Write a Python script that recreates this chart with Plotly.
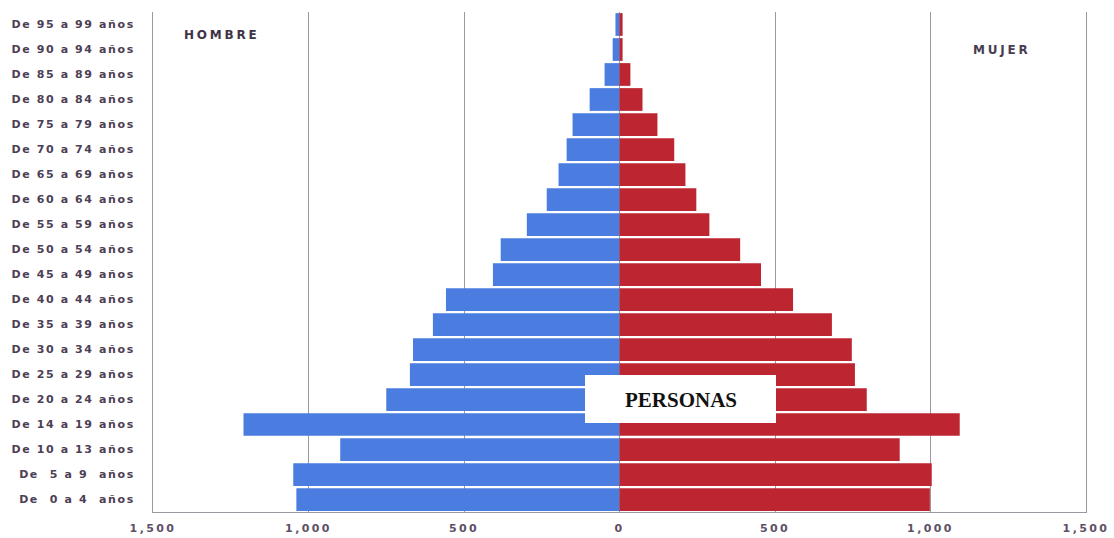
import plotly.graph_objects as go

# Grupos de edad, de mayor a menor (orden de arriba hacia abajo)
grupos = [
    "De 95 a 99 años", "De 90 a 94 años", "De 85 a 89 años", "De 80 a 84 años",
    "De 75 a 79 años", "De 70 a 74 años", "De 65 a 69 años", "De 60 a 64 años",
    "De 55 a 59 años", "De 50 a 54 años", "De 45 a 49 años", "De 40 a 44 años",
    "De 35 a 39 años", "De 30 a 34 años", "De 25 a 29 años", "De 20 a 24 años",
    "De 14 a 19 años", "De 10 a 13 años",
    "De\u00a0 5 a 9\u00a0 años", "De\u00a0 0 a 4\u00a0 años",
]

hombres = [13, 22, 48, 96, 151, 170, 196, 234, 298, 382, 407, 558, 600, 664,
           674, 750, 1209, 898, 1049, 1039]
mujeres = [10, 10, 35, 74, 122, 176, 212, 247, 289, 388, 455, 558, 683, 747,
           757, 795, 1094, 901, 1004, 998]

tick_vals = [-1500, -1000, -500, 0, 500, 1000, 1500]
tick_text = ["1,500", "1,000", "500", "0", "500", "1,000", "1,500"]

AZUL = "#4a7ddf"
ROJO = "#bd2630"
LINEA = "#9c98a2"


def espaciado(txt, px):
    return f'<span style="letter-spacing:{px}px">{txt}</span>'


fig = go.Figure()
fig.add_trace(go.Bar(
    y=grupos, x=[-v for v in hombres], orientation="h",
    marker=dict(color=AZUL, line=dict(width=0)), name="HOMBRE",
))
fig.add_trace(go.Bar(
    y=grupos, x=mujeres, orientation="h",
    marker=dict(color=ROJO, line=dict(width=0)), name="MUJER",
))

W, H = 1114, 538
L, R, T, B = 153, 28, 12, 26
pw, ph = W - L - R, H - T - B

fig.update_layout(
    width=W, height=H,
    margin=dict(l=L, r=R, t=T, b=B, autoexpand=False),
    paper_bgcolor="white", plot_bgcolor="white",
    barmode="relative", bargap=0.09,
    showlegend=False,
    font=dict(family="DejaVu Sans", color="#4a3d52"),
    xaxis=dict(
        range=[-1500, 1500],
        tickvals=tick_vals,
        ticktext=[espaciado(t, 2.4) for t in tick_text],
        tickfont=dict(size=11, color="#5e5066", weight="bold"),
        showgrid=True, gridcolor=LINEA, gridwidth=1,
        zeroline=False,
        showline=True, linecolor=LINEA, linewidth=1, mirror=False,
        ticks="", ticklabelstandoff=6,
        automargin=False, fixedrange=True,
    ),
    yaxis=dict(
        autorange="reversed",
        categoryorder="array", categoryarray=grupos,
        tickvals=grupos,
        ticktext=[espaciado(g, 1.6) for g in grupos],
        tickfont=dict(size=11, color="#4d4055", weight="bold"),
        showgrid=False, zeroline=False,
        showline=True, linecolor=LINEA, linewidth=1, mirror=True,
        ticks="", ticklabelstandoff=15,
        automargin=False, fixedrange=True,
    ),
)


def px_x(x):
    return (x - L) / pw


def px_y(y):
    return 1 - (y - T) / ph


fig.add_annotation(
    x=px_x(182), y=px_y(35), xref="paper", yref="paper",
    text=espaciado("HOMBRE", 2.8),
    showarrow=False, xanchor="left", yanchor="middle",
    font=dict(size=12, color="#3f3346", weight="bold"),
)
fig.add_annotation(
    x=px_x(971), y=px_y(50), xref="paper", yref="paper",
    text=espaciado("MUJER", 2.8),
    showarrow=False, xanchor="left", yanchor="middle",
    font=dict(size=12, color="#4a3d52", weight="bold"),
)

fig.add_shape(
    type="rect", xref="paper", yref="paper",
    x0=px_x(585), x1=px_x(776),
    y0=px_y(423), y1=px_y(375),
    fillcolor="white", line=dict(width=0), layer="above",
)
fig.add_annotation(
    x=px_x(680.5), y=px_y(400), xref="paper", yref="paper",
    text="<b>PERSONAS</b>", showarrow=False,
    xanchor="center", yanchor="middle",
    font=dict(family="Liberation Serif", size=21, color="#111111"),
)

fig.write_html("out.html")
